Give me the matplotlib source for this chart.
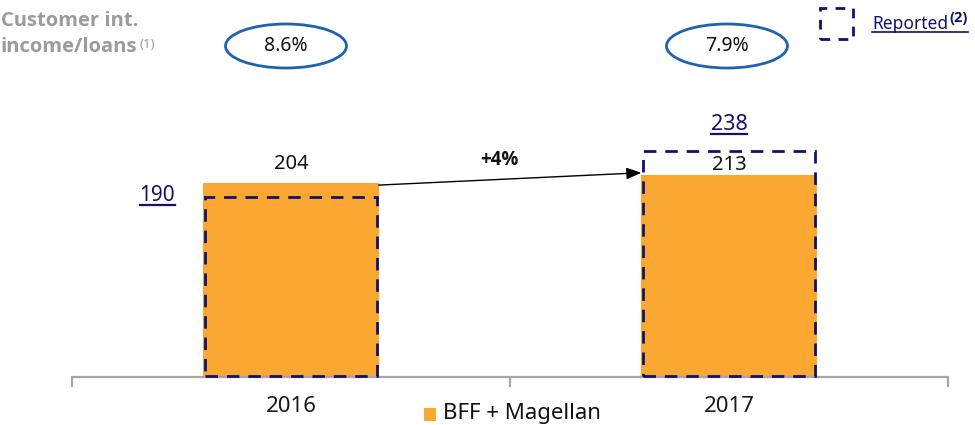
import matplotlib
matplotlib.use("Agg")
import matplotlib.pyplot as plt
from matplotlib.patches import Rectangle, Ellipse
from matplotlib.lines import Line2D

plt.rcParams["font.family"] = ["Noto Sans", "DejaVu Sans"]
BOLD_FAMILY = ["Open Sans", "DejaVu Sans"]

# Data
years = ["2016", "2017"]
bff_magellan = [204, 213]
reported = [190, 238]
margin_labels = ["8.6%", "7.9%"]
growth_label = "+4%"

ORANGE = "#FBA832"
NAVY = "#12126B"
BLUE = "#1F63AE"
GRAY_TXT = "#9B9B9B"
AXIS_GRAY = "#A6A6A6"

W, H = 975, 425
fig = plt.figure(figsize=(W / 100, H / 100), dpi=100)

def fx(px):
    return px / W

def fy(py):
    return 1 - py / H

base_px = 377
scale = 0.95  # pixels per unit
ax = fig.add_axes([fx(72), fy(base_px), fx(948) - fx(72), fy(0) - fy(base_px)])
ax.set_xlim(0, 2)
ax.set_ylim(0, base_px / scale)

x = [0.5, 1.5]
bw = 0.40
ax.bar(x, bff_magellan, width=bw, color=ORANGE, zorder=2)

# Reported figures: dashed outlines
for xi, r in zip(x, reported):
    ax.add_patch(Rectangle((xi - bw / 2 + 0.003, 1.5), bw - 0.006, r - 1.5,
                           fill=False, edgecolor=NAVY, lw=2.0,
                           linestyle=(0, (4.5, 3.2)), zorder=3, clip_on=False))

# Axis styling
for s in ["top", "right", "left"]:
    ax.spines[s].set_visible(False)
ax.spines["bottom"].set_color(AXIS_GRAY)
ax.spines["bottom"].set_linewidth(1.6)
ax.set_yticks([])
ax.set_xticks([0, 1, 2])
ax.set_xticklabels([])
ax.tick_params(axis="x", length=7, width=1.6, color=AXIS_GRAY)
for xi, yr in zip(x, years):
    ax.text(xi, -30 / scale, yr, ha="center", va="center", fontsize=16, color="#1a1a1a")

# Value labels (baseline a few pixels above each bar)
label_gaps_px = [14, 5]
for xi, v, g in zip(x, bff_magellan, label_gaps_px):
    ax.text(xi, v + g / scale, str(v), ha="center", va="baseline", fontsize=14.5,
            color="#111111")

t190 = ax.text(0.195, reported[0] + 1, str(reported[0]), ha="center", va="center",
               fontsize=15, color=NAVY)
t238 = ax.text(x[1], reported[1] + 28, str(reported[1]), ha="center", va="center",
               fontsize=15.5, color=NAVY)
texts_to_underline = [t190, t238]

# Growth arrow
ax.annotate("", xy=(x[1] - bw / 2, bff_magellan[1] + 2), xytext=(x[0] + bw / 2, bff_magellan[0] - 2),
            arrowprops=dict(arrowstyle="-|>,head_length=0.9,head_width=0.35", color="black",
                            lw=1.0, shrinkA=0, shrinkB=0), zorder=4)
ax.text(0.975, 228, growth_label, ha="center", va="center", fontsize=13.5, fontweight="bold",
        family=BOLD_FAMILY, color="#111111")

# Top row: margin ellipses
fig.text(fx(1), fy(21), "Customer int.", ha="left", va="center", fontsize=14.5,
         color=GRAY_TXT, fontweight="bold", family=BOLD_FAMILY)
tinc = fig.text(fx(1), fy(47), "income/loans", ha="left", va="center", fontsize=14.5,
                color=GRAY_TXT, fontweight="bold", family=BOLD_FAMILY)
for cx, lab in zip([286, 727], margin_labels):
    fig.add_artist(Ellipse((fx(cx), fy(46)), fx(121), 44 / H, transform=fig.transFigure,
                           fill=False, edgecolor=BLUE, lw=2.0))
    fig.text(fx(cx), fy(46), lab, ha="center", va="center", fontsize=14, color="#111111")

# Reported legend (top right)
fig.add_artist(Rectangle((fx(820), fy(39)), fx(33), 31 / H, transform=fig.transFigure,
                         fill=False, edgecolor=NAVY, lw=2.0, linestyle=(0, (3.5, 3.0))))
trep = fig.text(fx(872), fy(24), "Reported", ha="left", va="center", fontsize=12.5, color=NAVY)

# Bottom legend
fig.add_artist(Rectangle((fx(424), fy(421)), fx(12), 13 / H, transform=fig.transFigure,
                         facecolor=ORANGE, edgecolor="none"))
fig.text(fx(443), fy(414), "BFF + Magellan", ha="left", va="center", fontsize=16, color="#111111")

fig.canvas.draw()
r = fig.canvas.get_renderer()

# Superscripts
bb = tinc.get_window_extent(r)
fig.text((bb.x1 + 2) / W, (bb.y1 - 1) / H, "(1)", ha="left", va="top", fontsize=9.5, color=GRAY_TXT)
bb = trep.get_window_extent(r)
tsup = fig.text((bb.x1 + 1) / W, (bb.y1 + 4) / H, "(2)", ha="left", va="top", fontsize=10.5,
                color=NAVY, fontweight="bold", family=BOLD_FAMILY)
fig.canvas.draw()
bs = tsup.get_window_extent(r)
y_ul = bb.y0 + 1
fig.add_artist(Line2D([bb.x0 / W, bs.x1 / W], [y_ul / H, y_ul / H], transform=fig.transFigure,
                      color=NAVY, lw=1.2))

for t in texts_to_underline:
    b = t.get_window_extent(r)
    fig.add_artist(Line2D([b.x0 / W, b.x1 / W], [(b.y0 + 1) / H, (b.y0 + 1) / H],
                          transform=fig.transFigure, color=NAVY, lw=1.6))

fig.savefig("out.png", dpi=100)
